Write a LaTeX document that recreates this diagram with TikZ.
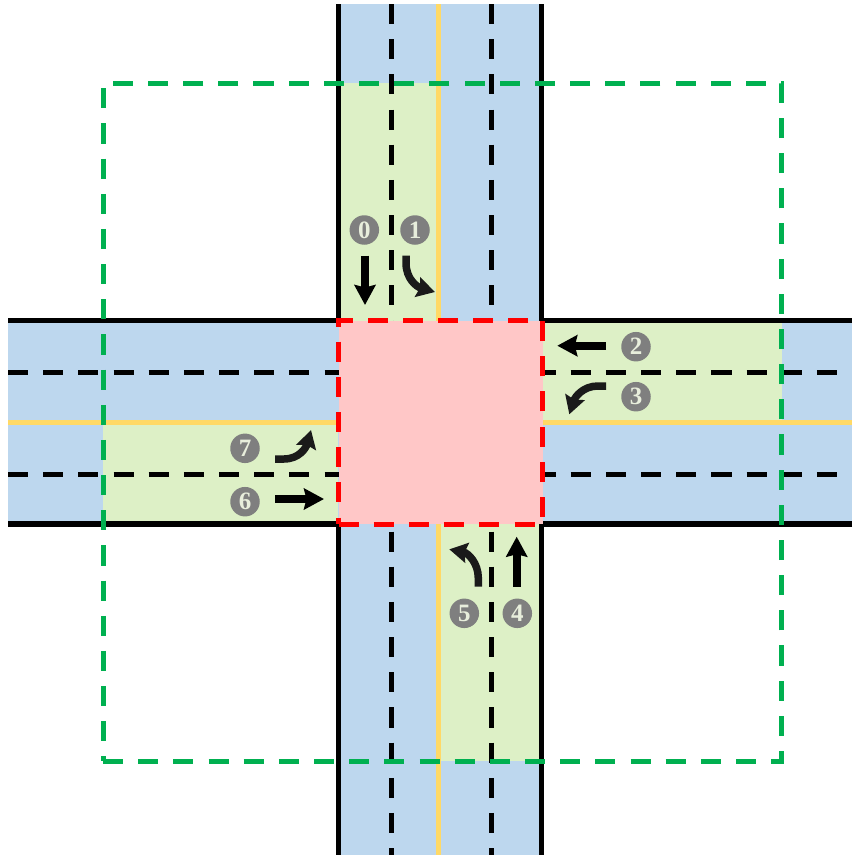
\documentclass[tikz,border=0pt]{standalone}
\usepackage{fontspec}
\newfontfamily\digitfont{Liberation Serif}
\usetikzlibrary{arrows.meta}
\definecolor{roadblue}{HTML}{BDD7EE}
\definecolor{zonegreen}{HTML}{DDF0C6}
\definecolor{boxpink}{HTML}{FFC7C7}
\definecolor{centreline}{HTML}{FFD966}
\definecolor{boxgreen}{HTML}{00B050}
\definecolor{badge}{HTML}{7F7F7F}
\definecolor{badgetext}{HTML}{E8EEDC}
\definecolor{curvearrow}{HTML}{1A1A1A}
\tikzset{
  edge/.style={draw=black,line width=5.2pt},
  laneline/.style={draw=black,line width=5pt,dash pattern=on 20.1pt off 15.07pt},
  yellowline/.style={draw=centreline,line width=5pt},
  boxdash/.style={line width=5pt,dash pattern=on 20.1pt off 15.07pt,miter limit=10},
  num/.style={circle,fill=badge,text=badgetext,minimum size=29.5pt,inner sep=0pt,
    font=\digitfont\bfseries\fontsize{25}{25}\selectfont},
  straight/.style={draw=black,line width=8pt,-{Stealth[length=20pt,width=21pt,inset=2.5pt]}},
  curved/.style={draw=curvearrow,fill=none,line width=7.5pt,-{Stealth[length=18pt,width=20pt,inset=2.5pt]}}
}
\begin{document}
\begin{tikzpicture}[x=1pt,y=-1pt]
\useasboundingbox (0,0) rectangle (852,857);
% road surfaces
\fill[roadblue] (338,4) rectangle (542,855);
\fill[roadblue] (8,320.5) rectangle (852,524);
% approach zones
\fill[zonegreen] (338,83) rectangle (438,320.5);
\fill[zonegreen] (542,320.5) rectangle (781.5,422);
\fill[zonegreen] (102.5,422) rectangle (338,524);
\fill[zonegreen] (438,524) rectangle (542,761);
% lane markings
\draw[yellowline] (438.3,4) -- (438.3,855);
\draw[yellowline] (8,422.3) -- (852,422.3);
\draw[laneline] (391,4) -- (391,855);
\draw[laneline] (491.3,4) -- (491.3,855);
\draw[laneline] (8,372.3) -- (852,372.3);
\draw[laneline] (8,474.3) -- (852,474.3);
% road edges
\draw[edge] (338.3,4) -- (338.3,320.5) -- (8,320.5);
\draw[edge] (541.8,4) -- (541.8,320.5) -- (852,320.5);
\draw[edge] (8,524) -- (338.3,524) -- (338.3,855);
\draw[edge] (852,524) -- (541.8,524) -- (541.8,855);
% conflict box
\fill[boxpink] (338.5,320.5) rectangle (543,524);
\draw[boxdash,draw=red] (338.7,524) -- (542.7,524) -- (542.7,320.3) -- (338.7,320.3) -- (338.7,524);
% control zone
\draw[boxdash,draw=boxgreen] (103,761) -- (781.3,761) -- (781.3,83) -- (103,83) -- (103,761);
% arrows
\draw[straight] (365,255.7) -- (365,305);
\draw[curved] (406,255.7) -- (406,263) .. controls (406,279) and (417,287) .. (435,292);
\draw[straight] (606,345.7) -- (557.3,345.7);
\draw[curved] (606,386) -- (598,386) .. controls (583,386) and (575,397) .. (569.3,414.3);
\draw[curved] (275,459) -- (284,459) .. controls (299,459) and (306,448) .. (311,430);
\draw[straight] (275,499) -- (324,499);
\draw[curved] (478.3,586.7) -- (478.3,578) .. controls (478.3,563) and (468,553) .. (449.3,549.3);
\draw[straight] (516.7,586.7) -- (516.7,536.7);
% numbers
\node[num] (n0) at (364.3,230) {0};
\node[num] (n1) at (415,230) {1};
\node[num] (n2) at (636,346.7) {2};
\node[num] (n3) at (636,396.7) {3};
\node[num] (n4) at (517.3,613.3) {4};
\node[num] (n5) at (464.3,613.3) {5};
\node[num] (n6) at (245,501.7) {6};
\node[num] (n7) at (245,448.3) {7};
\end{tikzpicture}
\end{document}
